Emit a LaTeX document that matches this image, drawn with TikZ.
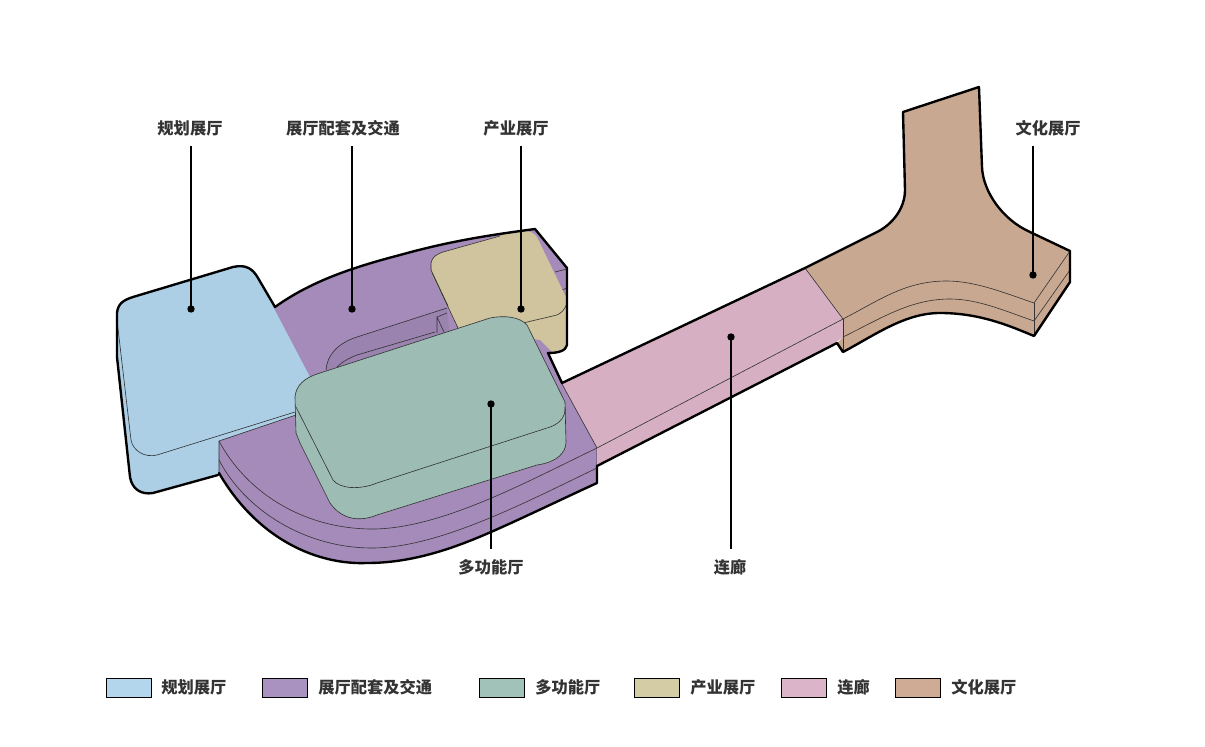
\documentclass[tikz,border=0pt]{standalone}
\usepackage{fontspec}
\setmainfont{Noto Sans CJK SC}
\usetikzlibrary{calc}

\definecolor{hallblue}{HTML}{ACCFE6}
\definecolor{hallpurple}{HTML}{A48BB9}
\definecolor{hallpurpledark}{HTML}{9B83B0}
\definecolor{hallgreen}{HTML}{9CBCB4}
\definecolor{halltan}{HTML}{CFC49D}
\definecolor{hallpink}{HTML}{D6AFC3}
\definecolor{hallbrown}{HTML}{C8A890}
\definecolor{keyblue}{HTML}{B3D6EC}
\definecolor{keypurple}{HTML}{A992C0}
\definecolor{keygreen}{HTML}{A0C2B8}
\definecolor{keytan}{HTML}{D4CCA4}
\definecolor{keypink}{HTML}{DCB4C9}
\definecolor{keybrown}{HTML}{CFAB95}
\definecolor{labelgray}{HTML}{333333}

\tikzset{
  thinedge/.style={draw=black!80, line width=0.35pt},
  outline/.style={draw=black, line width=1.35pt, line join=round, line cap=round},
  leader/.style={draw=black, line width=1.3pt},
  pindot/.style={circle, fill=black, inner sep=0pt, minimum size=4.2pt},
  hallname/.style={inner sep=0pt, text=labelgray, font=\fontsize{9.25}{11}\selectfont\bfseries},
  keybox/.style={draw=black, line width=0.6pt, minimum width=0.9cm, minimum height=0.39cm, inner sep=0pt, anchor=west},
}

\begin{document}
\begin{tikzpicture}[x=0.02cm,y=-0.02cm]
\useasboundingbox (0,0) rectangle (1205,747);

% Support and circulation, upper part
\fill[hallpurple] (270,307) -- (275,307) .. controls (310,282) and (350,268) .. (400,255)
  .. controls (450,241) and (490,235) .. (535,229) -- (567,268) -- (567,345) -- (548,353)
  -- (562,383) -- (597,448) -- (597,483) -- (400,500) -- (296,420) -- (300,377) -- cycle;
\fill[hallpurpledark] (447,308) -- (357,337) .. controls (338,343) and (327,355) .. (326,370)
  -- (450,340) -- cycle;
\draw[thinedge] (447,308) -- (357,337) .. controls (338,343) and (327,355) .. (326,370);
\draw[thinedge] (435,332) -- (357,355) .. controls (349,358) and (342,362) .. (337,367);
\draw[thinedge] (437,333) -- (437,317) -- (447,313) (437,317) -- (444,332);
\draw[thinedge] (555,272) -- (567,269) (562,290) -- (567,288);

% Planning hall
\fill[hallblue] (117,313) .. controls (118,303) and (124,300) .. (133,297) -- (233,267)
  .. controls (246,264) and (253,269) .. (258,278) -- (310,377) -- (296,430) -- (218,475)
  -- (153,493) .. controls (141,495) and (132,489) .. (130,477) -- (117,357) -- cycle;
\draw[thinedge] (117,320) -- (131,440) .. controls (133,451) and (145,458) .. (157,455) -- (295,412);

% Support and circulation, lower platform
\fill[hallpurple] (219,441) -- (296,415) -- (400,400) -- (562,383) -- (597,448) -- (597,483)
  .. controls (560,500) and (525,517) .. (491,532) .. controls (450,550) and (410,563) .. (367,563)
  .. controls (318,565) and (258,540) .. (219,473) -- cycle;
\draw[thinedge] (219,441) .. controls (245,490) and (300,528) .. (370,529)
  .. controls (440,530) and (530,480) .. (597,448);
\draw[thinedge] (219,460) .. controls (245,510) and (305,548) .. (372,548)
  .. controls (440,548) and (530,500) .. (597,468);
\draw[thinedge] (219,441) -- (219,473) (219,441) -- (296,415) (597,448) -- (597,483);

% Corridor
\fill[hallpink] (562,384) -- (805,268) -- (843,319) -- (843,337) -- (835,343) -- (597,466) -- (597,448) -- cycle;
\draw[thinedge] (562,384) -- (597,448) -- (843,319);

% Culture hall
\fill[hallbrown] (805,268) -- (877,232) .. controls (893,224) and (905,208) .. (905,190)
  -- (903,112) -- (979,87) -- (982,167) .. controls (983,192) and (1003,220) .. (1030,232)
  -- (1070,251) -- (1070,282) -- (1034,336) .. controls (1010,326) and (980,313) .. (940,313)
  .. controls (905,313) and (875,335) .. (843,352) -- (837,343) -- (843,337) -- (843,319) -- cycle;
\draw[thinedge] (805,268) -- (843,319) .. controls (880,300) and (905,281) .. (947,281)
  .. controls (975,281) and (1005,293) .. (1034,303) -- (1070,251);
\draw[thinedge] (843,337) .. controls (880,319) and (910,299) .. (950,299)
  .. controls (978,299) and (1005,311) .. (1034,321) -- (1070,270);
\draw[thinedge] (843,319) -- (843,352) (1034,303) -- (1034,336);

% Industry hall
\fill[halltan] (431,263) .. controls (432,257) and (437,254) .. (443,252) -- (513,232)
  .. controls (524,229) and (533,231) .. (537,237) -- (565,295) .. controls (568,300) and (567,303) .. (567,303)
  -- (567,345) .. controls (566,351) and (558,353) .. (553,353) -- (540,340) -- (458,328) -- (432,275) -- cycle;
\draw[thinedge] (500,236) -- (443,252) .. controls (437,254) and (432,257) .. (431,263) -- (431,270) -- (448,306);
\draw[thinedge] (432,273) -- (458,328);
\draw[thinedge] (567,303) .. controls (565,310) and (561,313) .. (557,315) -- (523,323);

% Multipurpose hall
\fill[hallgreen] (295,397) .. controls (296,385) and (305,378) .. (317,374) -- (490,318)
  .. controls (505,315) and (520,317) .. (527,325) -- (565,402) -- (566,442)
  .. controls (566,452) and (558,462) .. (537,465) -- (377,515) .. controls (360,522) and (342,520) .. (330,503)
  -- (300,443) -- (296,433) -- cycle;
\draw[thinedge] (295,397) .. controls (296,385) and (305,378) .. (317,374) -- (490,318)
  .. controls (505,315) and (520,317) .. (527,325) -- (565,402) -- (566,442)
  .. controls (566,452) and (558,462) .. (537,465) -- (377,515) .. controls (360,522) and (342,520) .. (330,503)
  -- (300,443) -- (296,433) -- cycle;
\draw[thinedge] (296,407) -- (333,480) .. controls (340,489) and (360,490) .. (377,483) -- (547,428)
  .. controls (558,425) and (566,418) .. (565,407);

% Thick silhouette
\draw[outline] (218,475) -- (153,493) .. controls (141,495) and (132,489) .. (130,477) -- (117,357) -- (117,313)
  .. controls (118,303) and (124,300) .. (133,297) -- (233,267)
  .. controls (246,264) and (253,269) .. (258,278) -- (275,307)
  .. controls (310,282) and (350,268) .. (400,255) .. controls (450,241) and (490,235) .. (535,229)
  -- (567,268) -- (567,345) .. controls (566,351) and (558,353) .. (548,353) -- (562,383)
  -- (805,268) -- (877,232) .. controls (893,224) and (905,208) .. (905,190)
  -- (903,112) -- (979,87) -- (982,167) .. controls (983,192) and (1003,220) .. (1030,232)
  -- (1070,251) -- (1070,282) -- (1034,336) .. controls (1010,326) and (980,313) .. (940,313)
  .. controls (905,313) and (875,335) .. (843,352) -- (837,343) -- (597,466);
\draw[outline] (597,466) -- (597,483) .. controls (560,500) and (525,517) .. (491,532)
  .. controls (450,550) and (410,563) .. (367,563) .. controls (318,565) and (258,540) .. (219,473);

% Hall labels
\node[hallname] (lblblue) at (190,128) {规划展厅};
\node[hallname] (lblpurple) at (343,128) {展厅配套及交通};
\node[hallname] (lbltan) at (516,128) {产业展厅};
\node[hallname] (lblbrown) at (1048,128) {文化展厅};
\node[hallname] (lblgreen) at (491,567) {多功能厅};
\node[hallname] (lblpink) at (730,567) {连廊};

% Pins
\node[pindot] (pinblue) at (191,309) {};
\node[pindot] (pinpurple) at (352,309) {};
\node[pindot] (pintan) at (521,309) {};
\node[pindot] (pinbrown) at (1033,275) {};
\node[pindot] (pingreen) at (491,404) {};
\node[pindot] (pinpink) at (731,337) {};

% Leaders
\foreach \hall in {blue,purple,tan,brown} {
    \draw[leader, shorten >=0.2cm] (pin\hall.center) -- (pin\hall |- lbl\hall.south);
}
\foreach \hall in {green,pink} {
    \draw[leader, shorten >=0.2cm] (pin\hall.center) -- (pin\hall |- lbl\hall.north);
}

% Legend
\foreach \x/\txt/\col/\nm in {106/161/keyblue/规划展厅, 262/318/keypurple/展厅配套及交通, 479/535/keygreen/多功能厅,
    634/690/keytan/产业展厅, 781/837/keypink/连廊, 895/951/keybrown/文化展厅} {
    \node[keybox, fill=\col] (key\x) at (\x,688) {};
    \node[hallname, anchor=west] (keylbl\x) at (\txt,687) {\nm};
}
\end{tikzpicture}
\end{document}
